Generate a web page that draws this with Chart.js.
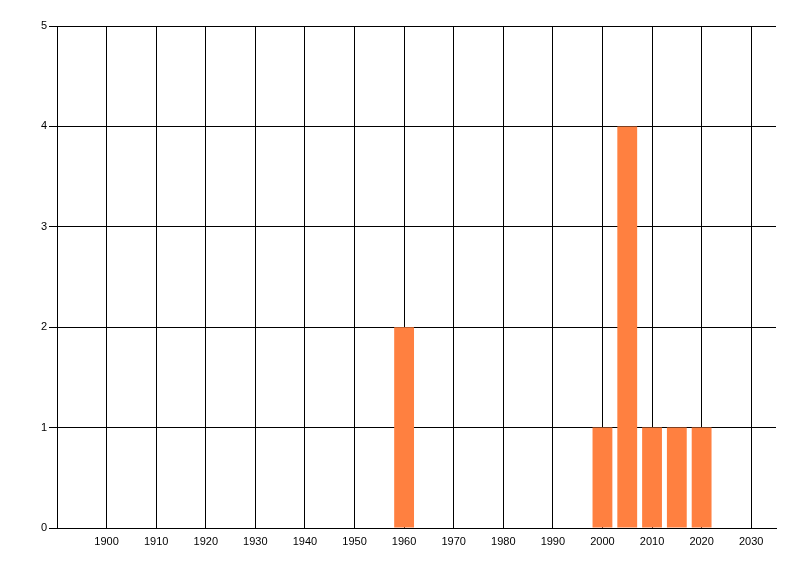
<!DOCTYPE html>
<html>
<head>
<meta charset="utf-8">
<script src="https://cdn.jsdelivr.net/npm/chart.js@4"></script>
<style>
html,body{margin:0;padding:0;background:#fff;}
#wrap{width:800px;height:576px;}
</style>
</head>
<body>
<div id="wrap"><canvas id="c" width="800" height="576"></canvas></div>
<script>
const years = [1960, 2000, 2005, 2010, 2015, 2020];
const counts = [2, 1, 4, 1, 1, 1];
const xTicks = [1900, 1910, 1920, 1930, 1940, 1950, 1960, 1970, 1980, 1990, 2000, 2010, 2020, 2030];
const yTicks = [0, 1, 2, 3, 4, 5];

const font = {family: '"Liberation Sans", Arial, sans-serif', size: 11};

new Chart(document.getElementById('c'), {
  type: 'bar',
  data: {
    datasets: [{
      data: years.map((y, i) => ({x: y, y: counts[i]})),
      backgroundColor: 'rgb(255,128,64)',
      borderWidth: 0,
      categoryPercentage: 1,
      barPercentage: 0.8
    }]
  },
  options: {
    responsive: false,
    animation: false,
    devicePixelRatio: 1,
    layout: {padding: {top: 26, right: 24, bottom: 0, left: 0}},
    plugins: {legend: {display: false}, tooltip: {enabled: false}},
    scales: {
      x: {
        type: 'linear',
        min: 1890,
        max: 2035,
        offset: false,
        afterBuildTicks: s => { s.ticks = xTicks.map(v => ({value: v})); },
        afterFit: s => { s.height = 48; },
        grid: {color: '#000', lineWidth: 1, drawTicks: false, offset: false},
        border: {color: '#000', width: 1},
        ticks: {color: '#000', font: font, padding: 7, maxRotation: 0, autoSkip: false,
                callback: v => String(v)}
      },
      y: {
        min: 0,
        max: 5,
        afterBuildTicks: s => { s.ticks = yTicks.map(v => ({value: v})); },
        afterFit: s => { s.width = 57; },
        grid: {color: '#000', lineWidth: 1, drawTicks: true, tickLength: 8},
        border: {color: '#000', width: 1},
        ticks: {color: '#000', font: font, padding: 2, callback: v => String(v)}
      }
    }
  }
});
</script>
</body>
</html>
